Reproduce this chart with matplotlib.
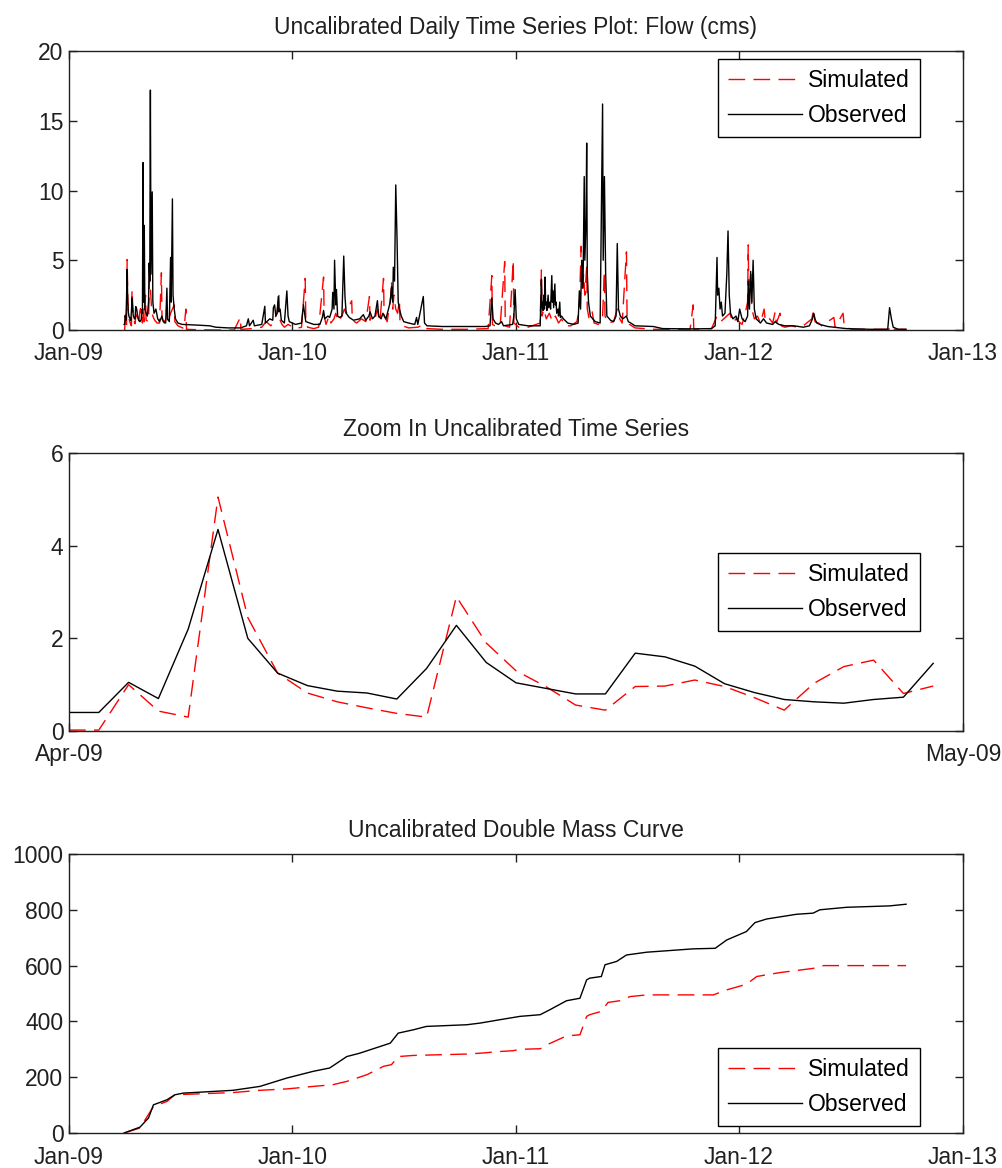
import numpy as np
import matplotlib
matplotlib.use('Agg')
import matplotlib.pyplot as plt
import matplotlib.dates as mdates

plt.rcParams['font.family'] = ['Liberation Sans', 'DejaVu Sans']

START = np.datetime64('2009-04-01')

# ---- April 2009 daily values (zoom panel) ----
zoom_day = list(range(30))
zoom_obs = [0.4, 0.4, 1.05, 0.7, 2.2, 4.35, 2.0, 1.25, 0.98, 0.86, 0.82, 0.69, 1.35, 2.28, 1.48,
            1.04, 0.92, 0.8, 0.8, 1.68, 1.6, 1.4, 1.02, 0.83, 0.68, 0.63, 0.6, 0.68, 0.73, 1.46]
zoom_sim = [0.02, 0.02, 1.0, 0.43, 0.3, 5.05, 2.45, 1.25, 0.82, 0.63, 0.5, 0.38, 0.3, 2.9, 1.9,
            1.3, 0.96, 0.56, 0.45, 0.96, 0.97, 1.1, 0.96, 0.72, 0.45, 1.03, 1.39, 1.53, 0.81, 0.97]

# ---- Daily flow after April 2009 (days after 2009-04-01, cms) ----
obs_day = [30, 31, 32, 33, 34, 36, 38, 40, 41, 42, 43, 44, 46, 47, 49, 52, 55, 58, 62, 64, 68, 70, 71,
           74, 76, 77, 79, 80, 82, 84, 88, 95, 120, 140, 150, 170, 190, 200, 203, 205, 211, 213, 225,
           230, 231, 238, 243, 244, 246, 248, 250, 252, 253, 255, 257, 262, 266, 268, 270, 280, 290,
           293, 295, 297, 310, 320, 324, 326, 328, 333, 336, 340, 341, 343, 344, 346, 347, 349, 352,
           356, 359, 361, 363, 368, 375, 385, 391, 395, 400, 402, 406, 410, 414, 416, 420, 423, 428,
           435, 437, 439, 440, 442, 444, 446, 448, 450, 453, 457, 465, 475, 478, 480, 489, 491, 495,
           520, 560, 590, 598, 601, 603, 607, 612, 617, 620, 635, 637, 639, 641, 645, 660, 680, 682,
           683, 684, 685, 686, 687, 688, 689, 690, 691, 693, 694, 696, 697, 699, 700, 701, 702, 704,
           705, 706, 707, 709, 710, 712, 713, 715, 718, 725, 735, 742, 744,
           746, 748, 750, 752, 753, 755, 756, 757, 759, 762, 770, 778, 782, 783, 785, 787, 789, 795,
           800, 804, 806, 808, 811, 815, 821, 824, 828, 835, 865, 880, 930, 960, 966, 969, 970, 972,
           974, 976, 978, 982, 985, 987, 989, 991, 995, 1000, 1003, 1006, 1010, 1015, 1019, 1020,
           1022, 1024, 1026, 1028, 1030, 1033, 1040, 1045, 1050, 1060, 1064, 1070, 1080, 1095, 1110,
           1120, 1125, 1127, 1129, 1132, 1137, 1150, 1180, 1220, 1248, 1251, 1254, 1257, 1265, 1278]
obs_val = [1.2, 12.0, 2.0, 7.5, 1.5, 1.2, 1.0, 2.0, 4.8, 3.5, 17.2, 4.0, 9.9, 2.0, 1.2, 1.5, 0.8, 0.6,
           1.0, 0.6, 0.5, 3.0, 0.8, 0.6, 5.2, 2.0, 9.4, 2.5, 1.5, 0.8, 0.5, 0.4, 0.35, 0.3, 0.2, 0.15,
           0.15, 0.3, 0.8, 0.3, 0.7, 0.3, 0.4, 1.7, 0.5, 0.8, 0.7, 1.6, 1.8, 1.0, 1.2, 2.4, 1.3, 1.5,
           0.7, 0.5, 2.8, 1.0, 0.6, 0.4, 0.5, 1.8, 1.2, 0.6, 0.4, 0.4, 0.9, 1.4, 0.8, 1.0, 0.9, 1.5,
           2.7, 1.5, 5.0, 1.8, 2.9, 1.0, 0.9, 1.0, 5.3, 2.4, 1.2, 0.9, 0.7, 0.8, 1.1, 0.7, 1.0, 1.3,
           0.8, 1.0, 2.1, 1.0, 0.8, 1.2, 0.8, 2.0, 3.1, 2.0, 4.5, 3.5, 10.4, 6.7, 2.0, 1.5, 1.0, 0.6,
           0.5, 0.4, 0.9, 0.4, 2.4, 0.5, 0.3, 0.25, 0.25, 0.25, 0.3, 2.3, 0.8, 0.5, 0.4, 0.6, 0.3,
           0.4, 1.0, 2.9, 0.8, 0.4, 0.3, 0.3, 3.6,
           1.6, 2.0, 1.4, 2.5, 1.5, 3.8, 1.8, 2.0, 1.4, 2.5, 1.6, 2.0, 1.5, 3.9, 2.0, 2.8, 1.6, 3.3,
           1.8, 2.0, 1.2, 1.5, 1.0, 2.0, 0.9, 1.0, 0.8, 0.5, 0.4, 0.5, 2.8, 1.5, 5.0, 3.0, 11.0, 5.0,
           8.0, 13.4, 4.0, 2.0, 1.0,
           0.6, 0.5, 16.2, 5.0, 11.0, 4.0, 1.0, 0.7, 0.6, 1.0, 6.2, 1.5, 1.0, 0.8, 1.0, 0.6, 0.5, 0.3,
           0.25, 0.1, 0.08, 0.1, 0.3, 5.2, 2.5, 3.0, 1.5, 2.0, 1.0, 1.2, 4.0, 7.1, 2.5, 1.2, 0.8, 1.0,
           0.6, 1.5, 0.8, 0.6, 1.0, 3.5, 1.5, 4.2, 2.0, 5.0, 1.5, 0.8, 0.5, 0.8, 0.5, 0.4, 0.6, 0.4,
           0.3, 0.3, 0.2, 0.3, 0.8, 1.2, 0.8, 0.5, 0.4, 0.25, 0.1, 0.05, 0.05, 1.6, 0.8, 0.2, 0.05,
           0.05]
sim_day = [30, 32, 33, 35, 36, 40, 42, 43, 45, 47, 50, 54, 58, 61, 62, 66, 70, 71, 76, 79, 82, 83, 88,
           98, 101, 102, 120, 150, 180, 190, 191, 210, 225, 232, 240, 246, 250, 253, 254, 258, 262,
           268, 280, 290, 296, 297, 300, 310, 318, 326, 327, 330, 335, 338, 343, 346, 350, 356, 360,
           363, 372, 373, 380, 388, 395, 401, 402, 405, 410, 414, 418, 424, 425, 430, 436, 437, 439,
           441, 444, 447, 450, 451, 455, 465, 480, 490, 495, 520, 560, 595, 601, 602, 610, 615, 622,
           623, 630, 636, 637, 645, 660, 680, 682, 683, 686, 690, 695, 700, 705, 710, 715, 720, 730,
           740, 744, 747, 749, 751, 753, 756, 757, 760, 765, 768, 775, 782, 785, 786, 790, 800, 806,
           810, 814, 821, 822, 826, 835, 865, 925, 930, 931, 960, 969, 975, 980, 985, 990, 995, 1000,
           1010, 1015, 1019, 1020, 1021, 1024, 1026, 1030, 1035, 1040, 1046, 1048, 1055, 1060, 1064,
           1066, 1072, 1074, 1080, 1090, 1100, 1110, 1124, 1127, 1129, 1135, 1140, 1160, 1162, 1175,
           1177, 1190, 1250, 1252, 1255, 1278]
sim_val = [0.5, 1.7, 0.6, 2.5, 0.7, 0.6, 4.7, 3.0, 1.5, 1.0, 0.7, 0.5, 0.5, 4.1, 0.8, 0.5, 1.6, 0.5,
           1.2, 1.5, 1.8, 0.6, 0.3, 0.1, 1.5, 0.05, 0.02, 0.0, 0.0, 0.9, 0.05, 0.1, 0.2, 0.6, 0.3, 0.8,
           1.2, 2.6, 0.8, 0.4, 0.2, 0.4, 0.1, 0.2, 3.7, 0.8, 0.2, 0.1, 0.2, 3.8, 1.0, 0.4, 1.0, 0.5,
           0.8, 1.2, 0.6, 1.0, 1.5, 1.2, 2.1, 0.7, 0.5, 0.8, 0.6, 2.4, 0.7, 1.0, 0.8, 1.5, 0.6, 3.7,
           1.0, 0.6, 2.5, 3.5, 1.5, 2.5, 1.5, 1.2, 2.1, 0.5, 0.3, 0.15, 0.2, 0.4, 0.1, 0.05, 0.05, 0.1,
           3.9, 0.4, 0.2, 0.5, 4.9, 0.3, 0.2, 5.0, 0.5, 0.2, 0.2, 0.5, 4.3, 1.0, 1.5, 0.8, 1.2, 0.6,
           1.0, 0.5, 0.8, 0.3, 0.3, 0.6, 1.5, 6.0, 3.0, 4.0, 2.5, 4.5, 1.5, 0.8, 1.3, 0.5, 0.4, 1.0,
           4.2, 1.0, 0.5, 0.6, 1.5, 0.8, 0.5, 5.6, 1.0, 0.4, 0.15, 0.05, 0.05, 1.8, 0.05, 0.1, 1.0,
           0.6, 0.8, 1.0, 1.2, 0.5, 0.8, 0.4, 1.2, 2.0, 6.1, 2.5, 4.0, 1.5, 0.8, 1.0, 0.5, 1.5, 0.6,
           0.8, 0.5, 1.3, 0.5, 1.2, 0.3, 0.2, 0.3, 0.2, 0.3, 0.8, 1.5, 0.6, 0.5, 0.3, 0.9, 0.2, 1.2,
           0.2, 0.05, 0.05, 0.3, 0.05, 0.05]

# ---- Double mass (cumulative) curves ----
cum_obs_day = [0, 26, 40, 48, 70, 83, 97, 178, 222, 266, 309, 336, 364, 385, 435, 448, 473, 494, 560,
               582, 614, 647, 680, 696, 723, 745, 756, 761, 780, 786, 805, 821, 854, 930, 966, 985,
               1017, 1031, 1050, 1099, 1126, 1137, 1181, 1251, 1278]
cum_obs_val = [0, 21, 54, 101, 119, 137, 143, 153, 167, 197, 221, 233, 274, 286, 322, 358, 370, 382,
               388, 394, 406, 418, 424, 442, 474, 483, 549, 555, 561, 603, 615, 638, 648, 660, 662,
               692, 722, 754, 767, 784, 788, 800, 809, 814, 820]
cum_sim_day = [0, 26, 48, 70, 83, 178, 222, 266, 309, 341, 364, 397, 424, 437, 448, 473, 560, 582, 614,
               636, 647, 680, 691, 723, 745, 756, 761, 780, 791, 810, 827, 854, 963, 985, 1017, 1034,
               1072, 1126, 1143, 1278]
cum_sim_val = [0, 18, 95, 113, 137, 145, 153, 158, 167, 173, 185, 209, 239, 245, 274, 278, 283, 286,
               292, 295, 300, 302, 316, 348, 352, 418, 424, 436, 468, 474, 489, 495, 495, 513, 533,
               561, 575, 590, 600, 600]

titles = ['Uncalibrated Daily Time Series Plot: Flow (cms)',
          'Zoom In Uncalibrated Time Series',
          'Uncalibrated Double Mass Curve']


def to_dates(days):
    return START + np.array(days).astype('timedelta64[D]')


FS = 16.5
fig = plt.figure(figsize=(10.03, 11.68), dpi=100)
L, W = 69 / 1003, 894 / 1003
ax1 = fig.add_axes([L, 1 - 330 / 1168, W, 279 / 1168])
ax2 = fig.add_axes([L, 1 - 731 / 1168, W, 278 / 1168])
ax3 = fig.add_axes([L, 1 - 1133 / 1168, W, 279 / 1168])

sim_style = dict(color='#ff0000', lw=1.0, dashes=(12, 6))
obs_style = dict(color='black', lw=1.0)

# Top panel
t_sim = to_dates(zoom_day + sim_day)
t_obs = to_dates(zoom_day + obs_day)
ax1.plot(t_sim, zoom_sim + sim_val, label='Simulated', **sim_style)
ax1.plot(t_obs, zoom_obs + obs_val, label='Observed', **obs_style)
ax1.set_ylim(0, 20)
ax1.set_yticks([0, 5, 10, 15, 20])
yr_ticks = [np.datetime64(f'{y}-01-01') for y in range(2009, 2014)]
ax1.set_xlim(yr_ticks[0], yr_ticks[-1])
ax1.set_xticks(yr_ticks)

# Middle panel
ax2.plot(to_dates(zoom_day), zoom_sim, label='Simulated', **sim_style)
ax2.plot(to_dates(zoom_day), zoom_obs, label='Observed', **obs_style)
ax2.set_ylim(0, 6)
ax2.set_yticks([0, 2, 4, 6])
ax2.set_xlim(np.datetime64('2009-04-01'), np.datetime64('2009-05-01'))
ax2.set_xticks([np.datetime64('2009-04-01'), np.datetime64('2009-05-01')])

# Bottom panel
ax3.plot(to_dates(cum_sim_day), cum_sim_val, label='Simulated', **sim_style)
ax3.plot(to_dates(cum_obs_day), cum_obs_val, label='Observed', **obs_style)
ax3.set_ylim(0, 1000)
ax3.set_yticks(range(0, 1001, 200))
ax3.set_xlim(yr_ticks[0], yr_ticks[-1])
ax3.set_xticks(yr_ticks)

legend_pos = [('upper right', (0.952, 0.971)), ('upper right', (0.952, 0.64)),
              ('lower right', (0.952, 0.025))]
for ax, title, (loc, anchor) in zip([ax1, ax2, ax3], titles, legend_pos):
    ax.xaxis.set_major_formatter(mdates.DateFormatter('%b-%y'))
    ax.set_title(title, fontsize=FS, pad=12, color='#202020')
    ax.tick_params(direction='in', length=6, width=1, top=True, right=True,
                   labelsize=FS, colors='#202020')
    ax.tick_params(axis='x', pad=9)
    ax.tick_params(axis='y', pad=4)
    for s in ax.spines.values():
        s.set_linewidth(1.0)
        s.set_color('#202020')
    leg = ax.legend(loc=loc, bbox_to_anchor=anchor, borderaxespad=0, fontsize=FS,
                    handlelength=3.25, handletextpad=0.25, labelspacing=0.5,
                    borderpad=0.45, fancybox=False, framealpha=1, edgecolor='black')
    leg.get_frame().set_linewidth(1.0)

fig.savefig('out.png', dpi=100)
